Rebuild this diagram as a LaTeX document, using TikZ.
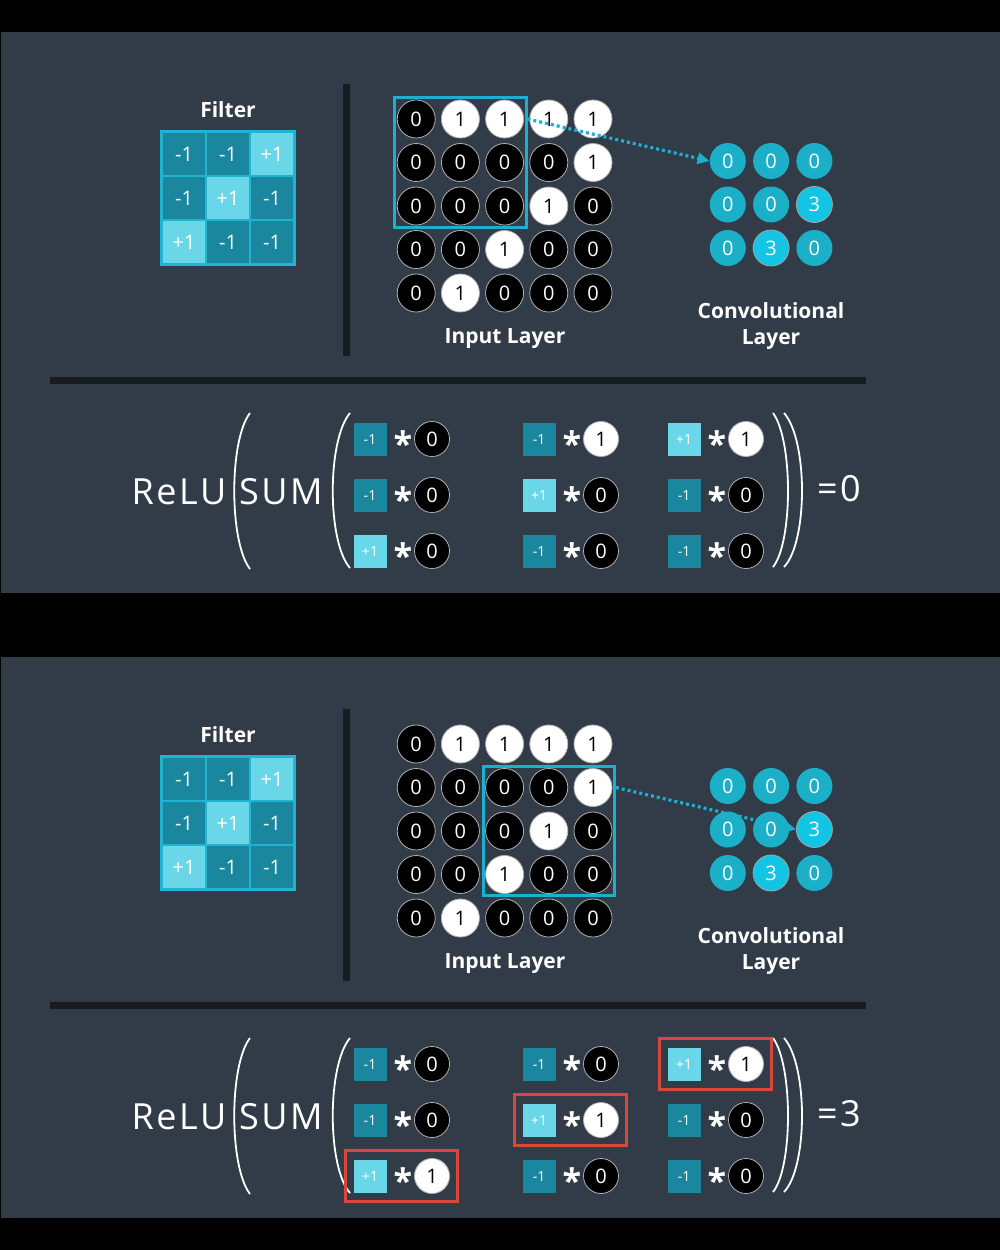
\documentclass[tikz,border=0pt]{standalone}
\usepackage{fontspec}
\setmainfont{Open Sans}
\newfontfamily\spacedfont[LetterSpace=7]{Open Sans}
\usetikzlibrary{arrows.meta,fit}
\pgfdeclarelayer{front}
\pgfsetlayers{main,front}
\definecolor{panelc}{HTML}{313C48}
\definecolor{barc}{HTML}{161C22}
\definecolor{fdark}{HTML}{1B879E}
\definecolor{flight}{HTML}{6AD7E9}
\definecolor{fborder}{HTML}{1EB4D2}
\definecolor{convc}{HTML}{1BB0C8}
\definecolor{convh}{HTML}{14C4E4}
\definecolor{winc}{HTML}{1BB0CF}
\definecolor{redc}{HTML}{D9473B}
\tikzset{
  panel/.style={fill=panelc, draw=none},
  bar/.style={draw=barc, line width=7pt},
  fcell/.style={draw=fborder, line width=1.5pt, minimum size=44pt, inner sep=0pt, text=white, font=\fontsize{20}{24}\selectfont},
  incirc/.style={circle, draw=gray!60, line width=0.8pt, minimum size=38pt, inner sep=0pt, font=\fontsize{20}{24}\selectfont},
  convcirc/.style={circle, fill=convc, minimum size=36pt, inner sep=0pt, text=white, font=\fontsize{20}{24}\selectfont},
  convhi/.style={fill=convh, draw=gray!70, line width=0.8pt},
  win/.style={draw=winc, line width=3pt, inner sep=2pt},
  dotarrow/.style={draw=winc, line width=3.2pt, dash pattern=on 3pt off 3pt, -{Triangle[length=12pt,width=11pt]}},
  sqbox/.style={minimum size=33pt, inner sep=0pt, text=white, font=\fontsize{14}{16}\selectfont},
  scirc/.style={circle, draw=gray!60, line width=0.8pt, minimum size=35pt, inner sep=0pt, font=\fontsize{20}{24}\selectfont},
  startxt/.style={inner sep=0pt, anchor=base, text=white, font=\bfseries\fontsize{34}{34}\selectfont},
  lbl/.style={text=white, font=\bfseries\fontsize{21}{26}\selectfont, align=center},
  big/.style={text=white, font=\spacedfont\fontsize{36}{40}\selectfont},
  paren/.style={draw=white, line width=1.8pt},
  redbox/.style={draw=redc, line width=3pt, inner sep=8pt}
}
% filter grid
\newcommand\filtergrid[2]{%
  \foreach \frow [count=\r] in {{-1,-1,+1},{-1,+1,-1},{+1,-1,-1}} {
    \foreach \v [count=\c] in \frow {
      \ifnum\v>0 \def\fcellc{flight}\else\def\fcellc{fdark}\fi
      \node[fcell, fill=\fcellc] (#1f\r\c) at ({140+44*\c},{#2+110+44*\r}) {\v};
    }
  }
}
% input grid
\newcommand\inputgrid[2]{%
  \foreach \irow [count=\r] in {{0,1,1,1,1},{0,0,0,0,1},{0,0,0,1,0},{0,0,1,0,0},{0,1,0,0,0}} {
    \foreach \v [count=\c] in \irow {
      \ifnum\v=1 \def\icfill{white}\def\ictext{black}\else\def\icfill{black}\def\ictext{white}\fi
      \node[incirc, fill=\icfill, text=\ictext] (#1i\r\c) at ({372+44.2*\c},{#2+75.5+43.5*\r}) {\v};
    }
  }
}
% conv grid
\newcommand\convgrid[2]{%
  \foreach \crow [count=\r] in {{0,0,0},{0,0,3},{0,3,0}} {
    \foreach \v [count=\c] in \crow {
      \ifnum\v=3
        \node[convcirc, convhi] (#1c\r\c) at ({684.5+43.3*\c},{#2+117.5+43.5*\r}) {\v};
      \else
        \node[convcirc] (#1c\r\c) at ({684.5+43.3*\c},{#2+117.5+43.5*\r}) {\v};
      \fi
    }
  }
}
% one product term: name, square x, y, filter value, input value
\newcommand\prodterm[5]{%
  \ifnum#4>0 \def\pqfill{flight}\else\def\pqfill{fdark}\fi
  \ifnum#5=1 \def\pcfill{white}\def\pctext{black}\else\def\pcfill{black}\def\pctext{white}\fi
  \node[sqbox, fill=\pqfill] (#1s) at (#2,#3) {#4};
  \node[startxt] (#1t) at ({#2+33},{#3+17}) {*};
  \node[scirc, fill=\pcfill, text=\pctext] (#1c) at ({#2+62},#3) {#5};
}
% parentheses of the formula
\newcommand\formulaparens[1]{%
  \draw[paren] (250,{#1+413}) .. controls (229,{#1+440}) and (229,{#1+542}) .. (250,{#1+569});
  \draw[paren] (350,{#1+413}) .. controls (327,{#1+440}) and (327,{#1+542}) .. (350,{#1+568});
  \draw[paren] (773,{#1+413}) .. controls (793,{#1+440}) and (793,{#1+542}) .. (773,{#1+567});
  \draw[paren] (784,{#1+413}) .. controls (808,{#1+440}) and (808,{#1+542}) .. (784,{#1+567});
}
\begin{document}
\begin{tikzpicture}[x=1pt,y=-1pt]
\useasboundingbox (0,0) rectangle (1000,1250);
\fill[black] (0,0) rectangle (1000,1250);
\fill[panelc] (1,32) rectangle (1000,593);
\fill[panelc] (1,657) rectangle (1000,1218);

% ================= PANEL 1 =================
\node[lbl] (aflt) at (228,110) {Filter};
\filtergrid{a}{0}
\draw[fborder, line width=2.5pt] (af11.north west) rectangle (af33.south east);
\coordinate (avt) at (346,84);
\coordinate (avb) at (346,356);
\draw[bar] (avt) -- (avb);
\inputgrid{a}{0}
\node[win, fit=(ai11)(ai33)] (awin) {};
\node[lbl] (ainl) at (505,339) {Input Layer};
\begin{pgfonlayer}{front}
\convgrid{a}{0}
\end{pgfonlayer}
\draw[dotarrow] (awin.east |- ai13) -- (ac11.west);
\node[lbl] (aconvl) at (771,326) {Convolutional\\Layer};
\coordinate (ahl) at (50,380);
\coordinate (ahr) at (866,380);
\draw[bar] (ahl) -- (ahr);
\node[big] (arelu) at (179,492) {ReLU};
\node[big] (asum) at (281,492) {SUM};
\formulaparens{0}
\prodterm{a11}{370}{439}{-1}{0}
\prodterm{a21}{370}{495}{-1}{0}
\prodterm{a31}{370}{551}{+1}{0}
\prodterm{a12}{539}{439}{-1}{1}
\prodterm{a22}{539}{495}{+1}{0}
\prodterm{a32}{539}{551}{-1}{0}
\prodterm{a13}{684}{439}{+1}{1}
\prodterm{a23}{684}{495}{-1}{0}
\prodterm{a33}{684}{551}{-1}{0}
\node[big] (ares) at (839,489) {=0};

% ================= PANEL 2 =================
\node[lbl] (bflt) at (228,735) {Filter};
\filtergrid{b}{625}
\draw[fborder, line width=2.5pt] (bf11.north west) rectangle (bf33.south east);
\coordinate (bvt) at (346,709);
\coordinate (bvb) at (346,981);
\draw[bar] (bvt) -- (bvb);
\inputgrid{b}{625}
\node[win, fit=(bi23)(bi45)] (bwin) {};
\node[lbl] (binl) at (505,964) {Input Layer};
\begin{pgfonlayer}{front}
\convgrid{b}{625}
\end{pgfonlayer}
\draw[dotarrow] (bwin.east |- bi25) -- (bc23.west);
\node[lbl] (bconvl) at (771,951) {Convolutional\\Layer};
\coordinate (bhl) at (50,1005);
\coordinate (bhr) at (866,1005);
\draw[bar] (bhl) -- (bhr);
\node[big] (brelu) at (179,1117) {ReLU};
\node[big] (bsum) at (281,1117) {SUM};
\formulaparens{625}
\prodterm{b11}{370}{1064}{-1}{0}
\prodterm{b21}{370}{1120}{-1}{0}
\prodterm{b31}{370}{1176}{+1}{1}
\prodterm{b12}{539}{1064}{-1}{0}
\prodterm{b22}{539}{1120}{+1}{1}
\prodterm{b32}{539}{1176}{-1}{0}
\prodterm{b13}{684}{1064}{+1}{1}
\prodterm{b23}{684}{1120}{-1}{0}
\prodterm{b33}{684}{1176}{-1}{0}
\node[redbox, fit=(b13s)(b13c)] (br1) {};
\node[redbox, fit=(b22s)(b22c)] (br2) {};
\node[redbox, fit=(b31s)(b31c)] (br3) {};
\node[big] (bres) at (839,1114) {=3};
\end{tikzpicture}
\end{document}
